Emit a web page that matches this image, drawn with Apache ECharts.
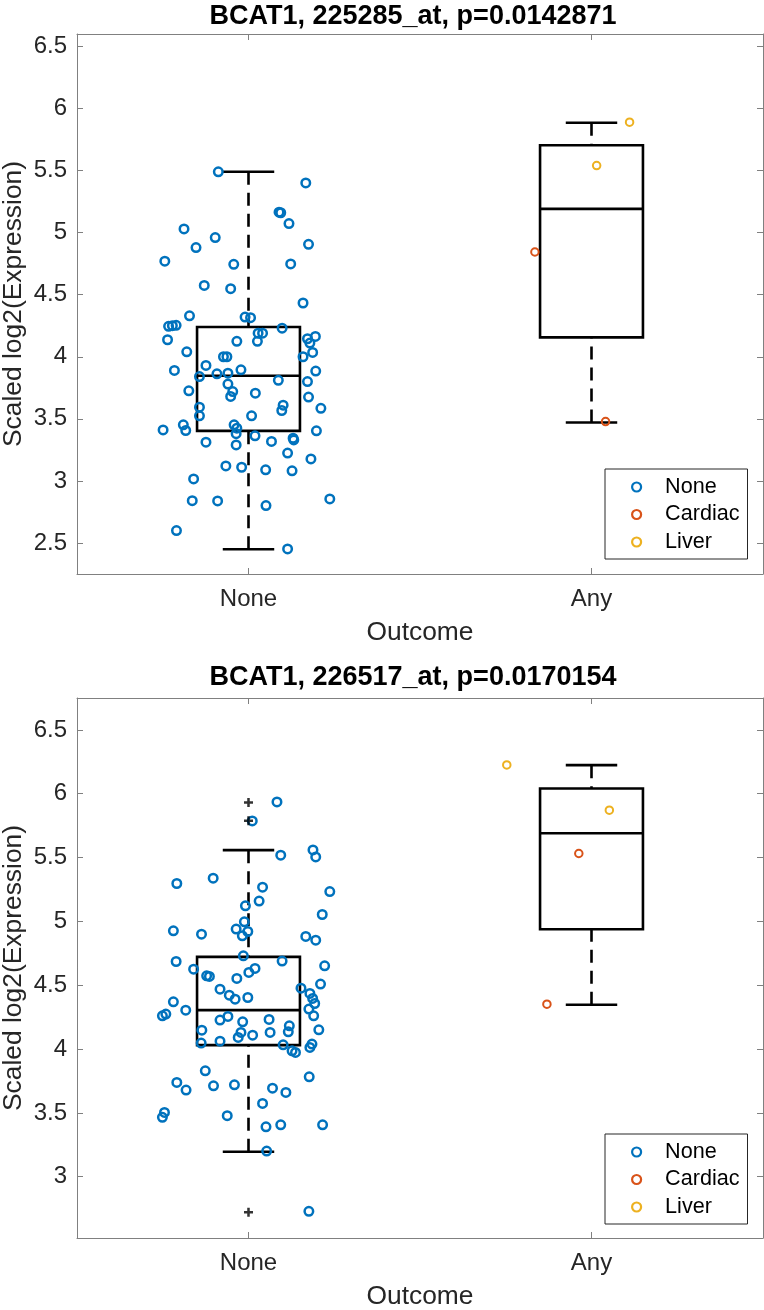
<!DOCTYPE html>
<html><head><meta charset="utf-8">
<script src="https://cdn.jsdelivr.net/npm/echarts@6/dist/echarts.min.js"></script>
<style>html,body{margin:0;padding:0;background:#fff}#c{width:764px;height:1310px}</style>
</head><body><div id="c"></div>
<script>
const categories = ['None', 'Any'];
const legendNames = ['None', 'Cardiac', 'Liver'];
const titles = ['BCAT1, 225285_at, p=0.0142871', 'BCAT1, 226517_at, p=0.0170154'];
const yTicks1 = [2.5, 3, 3.5, 4, 4.5, 5, 5.5, 6, 6.5];
const yTicks2 = [3, 3.5, 4, 4.5, 5, 5.5, 6, 6.5];
const yRange1 = [2.25, 6.6];
const yRange2 = [2.52, 6.75];
// [position, lowerWhisker, q1, median, q3, upperWhisker]
const box1 = [[1, 2.449, 3.403, 3.847, 4.24, 5.49], [2, 3.47, 4.156, 5.191, 5.704, 5.885]];
const box2 = [[1, 3.196, 4.031, 4.305, 4.722, 5.558], [2, 4.347, 4.939, 5.691, 6.041, 6.224]];
const outliers1 = [];
const outliers2 = [[1, 5.931], [1, 5.788], [1, 2.721]];
const none1 = [[0.912,5.49],[1.167,5.40],[1.089,5.165],[1.094,5.16],[1.118,5.073],[0.812,5.03],[0.903,4.96],[0.847,4.88],[1.175,4.906],[0.756,4.77],[0.957,4.745],[1.123,4.748],[0.871,4.575],[0.948,4.548],[1.159,4.433],[0.828,4.33],[0.990,4.32],[1.006,4.315],[0.767,4.245],[0.778,4.25],[0.789,4.253],[0.764,4.137],[0.820,4.04],[1.098,4.23],[1.028,4.19],[1.041,4.19],[0.966,4.124],[1.026,4.124],[1.172,4.145],[1.195,4.164],[1.179,4.11],[1.187,4.035],[1.159,4.0],[0.927,4.0],[0.937,4.0],[0.784,3.89],[0.876,3.93],[0.857,3.84],[0.908,3.863],[0.940,3.868],[0.978,3.895],[1.087,3.81],[1.172,3.80],[1.196,3.885],[0.826,3.726],[0.940,3.78],[0.954,3.72],[0.948,3.68],[1.020,3.707],[1.175,3.675],[0.857,3.594],[0.857,3.524],[1.009,3.524],[1.101,3.61],[1.097,3.567],[1.211,3.585],[0.751,3.411],[0.810,3.452],[0.817,3.406],[0.958,3.452],[0.966,3.425],[0.964,3.38],[1.198,3.403],[0.876,3.312],[0.964,3.29],[1.019,3.363],[1.067,3.318],[1.130,3.344],[1.132,3.33],[1.114,3.224],[1.182,3.177],[0.934,3.121],[0.980,3.11],[1.050,3.089],[1.127,3.081],[0.840,3.016],[0.836,2.841],[0.910,2.839],[1.051,2.801],[1.237,2.855],[0.790,2.6],[1.114,2.452]];
const cardiac1 = [[1.835, 4.844], [2.041, 3.478]];
const liver1 = [[2.111, 5.89], [2.015, 5.54]];
const none2 = [[1.083,5.936],[1.011,5.787],[1.094,5.519],[1.188,5.56],[1.196,5.505],[0.791,5.297],[0.897,5.339],[1.041,5.268],[1.237,5.234],[0.991,5.122],[1.031,5.159],[1.215,5.054],[0.781,4.926],[0.863,4.90],[0.988,4.997],[0.964,4.94],[0.982,4.887],[0.998,4.921],[1.167,4.882],[1.196,4.853],[0.789,4.686],[0.985,4.73],[1.098,4.689],[1.222,4.652],[0.840,4.626],[0.878,4.574],[0.886,4.569],[0.966,4.553],[1.001,4.60],[1.019,4.632],[0.917,4.469],[0.944,4.422],[0.961,4.391],[0.998,4.404],[1.153,4.477],[1.179,4.436],[1.187,4.397],[1.193,4.357],[1.210,4.509],[0.781,4.37],[0.749,4.26],[0.759,4.274],[0.817,4.305],[0.917,4.227],[0.940,4.256],[0.983,4.213],[1.060,4.232],[1.119,4.182],[1.116,4.135],[1.176,4.313],[1.190,4.26],[0.864,4.148],[0.978,4.130],[0.970,4.091],[1.012,4.109],[1.063,4.13],[1.205,4.151],[0.862,4.047],[0.917,4.062],[1.101,4.033],[1.127,3.986],[1.137,3.974],[1.179,4.013],[1.185,4.039],[0.874,3.830],[0.791,3.739],[0.818,3.679],[0.898,3.712],[0.959,3.720],[1.070,3.694],[1.109,3.660],[1.177,3.783],[1.041,3.574],[0.749,3.465],[0.755,3.504],[0.938,3.478],[1.051,3.391],[1.094,3.407],[1.216,3.407],[1.053,3.201],[1.176,2.729]];
const cardiac2 = [[1.963, 5.532], [1.870, 4.352]];
const liver2 = [[1.753, 6.226], [2.052, 5.871]];

const FONT = 'Liberation Sans, Arial, Helvetica, sans-serif';
const AX = '#808080';
const TXT = '#262626';
const COLORS = { None: '#0072BD', Cardiac: '#D95319', Liver: '#EDB120' };

function renderBox(params, api) {
  const x = api.value(0), lo = api.value(1), q1 = api.value(2), med = api.value(3), q3 = api.value(4), hi = api.value(5);
  const hb = 0.15, hc = 0.075;
  const tl = api.coord([x - hb, q3]), br = api.coord([x + hb, q1]);
  const mL = api.coord([x - hb, med]), mR = api.coord([x + hb, med]);
  const cHi = api.coord([x, hi]), cQ3 = api.coord([x, q3]), cQ1 = api.coord([x, q1]), cLo = api.coord([x, lo]);
  const hiL = api.coord([x - hc, hi]), hiR = api.coord([x + hc, hi]);
  const loL = api.coord([x - hc, lo]), loR = api.coord([x + hc, lo]);
  const st = { stroke: '#000', lineWidth: 2.6, fill: null };
  const ds = { stroke: '#000', lineWidth: 2.6, lineDash: [13, 8] };
  return { type: 'group', children: [
    { type: 'line', shape: { x1: cHi[0], y1: cHi[1], x2: cQ3[0], y2: cQ3[1] }, style: ds },
    { type: 'line', shape: { x1: cLo[0], y1: cLo[1], x2: cQ1[0], y2: cQ1[1] }, style: ds },
    { type: 'line', shape: { x1: hiL[0], y1: hiL[1], x2: hiR[0], y2: hiR[1] }, style: st },
    { type: 'line', shape: { x1: loL[0], y1: loL[1], x2: loR[0], y2: loR[1] }, style: st },
    { type: 'rect', shape: { x: tl[0], y: tl[1], width: br[0] - tl[0], height: br[1] - tl[1] }, style: { stroke: '#000', lineWidth: 2.6, fill: 'rgba(0,0,0,0)' } },
    { type: 'line', shape: { x1: mL[0], y1: mL[1], x2: mR[0], y2: mR[1] }, style: st }
  ] };
}

const PLUS = 'path://M3.6,0H6.4V3.6H10V6.4H6.4V10H3.6V6.4H0V3.6H3.6Z';

function xAxes(gi) {
  const base = {
    gridIndex: gi, type: 'value', min: 0.5, max: 2.5,
    axisLine: { show: true, lineStyle: { color: AX, width: 1 } },
    axisTick: { show: true, inside: true, length: 6, customValues: [1, 2], lineStyle: { color: AX, width: 1 } },
    splitLine: { show: false }
  };
  return [
    Object.assign({}, base, {
      position: 'bottom',
      name: 'Outcome', nameLocation: 'middle', nameGap: 46, nameMoveOverlap: false,
      nameTextStyle: { fontSize: 26.4, fontFamily: FONT, color: TXT },
      axisLabel: { show: true, customValues: [1, 2], margin: 13, fontSize: 24, fontFamily: FONT, color: TXT,
        formatter: v => categories[Math.round(v) - 1] }
    }),
    Object.assign({}, base, { position: 'top', axisLabel: { show: false } })
  ];
}
function yAxes(gi, range, ticks) {
  const base = {
    gridIndex: gi, type: 'value', min: range[0], max: range[1],
    axisLine: { show: true, lineStyle: { color: AX, width: 1 } },
    axisTick: { show: true, inside: true, length: 6, customValues: ticks, lineStyle: { color: AX, width: 1 } },
    splitLine: { show: false }
  };
  return [
    Object.assign({}, base, {
      position: 'left',
      name: 'Scaled log2(Expression)', nameLocation: 'middle', nameGap: 50, nameRotate: 90, nameMoveOverlap: false,
      nameTextStyle: { fontSize: 26.4, fontFamily: FONT, color: TXT },
      axisLabel: { show: true, customValues: ticks, margin: 10, fontSize: 24, fontFamily: FONT, color: TXT }
    }),
    Object.assign({}, base, { position: 'right', axisLabel: { show: false } })
  ];
}

function groupSeries(gi, box, outl, none, cardiac, liver) {
  const xi = gi * 2, yi = gi * 2;
  const sc = (name, data, size, bw) => ({
    type: 'scatter', name, xAxisIndex: xi, yAxisIndex: yi, data, symbol: 'circle', symbolSize: size,
    itemStyle: { color: 'rgba(255,255,255,0)', borderColor: COLORS[name], borderWidth: bw, opacity: 1 },
    emphasis: { disabled: true }, z: 3
  });
  return [
    { type: 'custom', name: 'box' + gi, xAxisIndex: xi, yAxisIndex: yi, data: box, renderItem: renderBox, z: 2, silent: true },
    sc('None', none, 8.5, 2.5),
    sc('Cardiac', cardiac, 7.5, 2),
    sc('Liver', liver, 7.5, 2),
    { type: 'scatter', name: 'outliers' + gi, xAxisIndex: xi, yAxisIndex: yi, data: outl, symbol: PLUS, symbolSize: 9,
      itemStyle: { color: '#000' }, z: 4, silent: true }
  ];
}

function legendAt(top) {
  return {
    orient: 'vertical', left: 605, top: top,
    data: legendNames.map(n => ({ name: n, icon: 'circle' })),
    itemWidth: 9, itemHeight: 9, itemGap: 3.5,
    padding: [6, 8, 5, 26],
    backgroundColor: '#fff', borderColor: '#262626', borderWidth: 1, borderRadius: 0,
    itemStyle: { borderWidth: 2.2 },
    textStyle: { fontSize: 21.6, fontFamily: FONT, color: '#000', lineHeight: 24, padding: [0, 0, 0, 19] },
    selectedMode: false
  };
}

const chart = echarts.init(document.getElementById('c'), null, { renderer: 'canvas' });
chart.setOption({
  animation: false,
  backgroundColor: '#fff',
  title: [
    { text: titles[0], left: 413, top: 3, textAlign: 'center', padding: 0,
      textStyle: { fontSize: 27, fontWeight: 'bold', fontFamily: FONT, color: '#000' } },
    { text: titles[1], left: 413, top: 664, textAlign: 'center', padding: 0,
      textStyle: { fontSize: 27, fontWeight: 'bold', fontFamily: FONT, color: '#000' } }
  ],
  grid: [
    { left: 77, top: 34, right: 1, height: 540, containLabel: false, outerBoundsMode: 'none' },
    { left: 77, top: 698, right: 1, height: 540, containLabel: false, outerBoundsMode: 'none' }
  ],
  xAxis: [...xAxes(0), ...xAxes(1)],
  yAxis: [...yAxes(0, yRange1, yTicks1), ...yAxes(1, yRange2, yTicks2)],
  legend: [legendAt(469), legendAt(1134)],
  series: [
    ...groupSeries(0, box1, outliers1, none1, cardiac1, liver1),
    ...groupSeries(1, box2, outliers2, none2, cardiac2, liver2)
  ]
});
</script></body></html>
